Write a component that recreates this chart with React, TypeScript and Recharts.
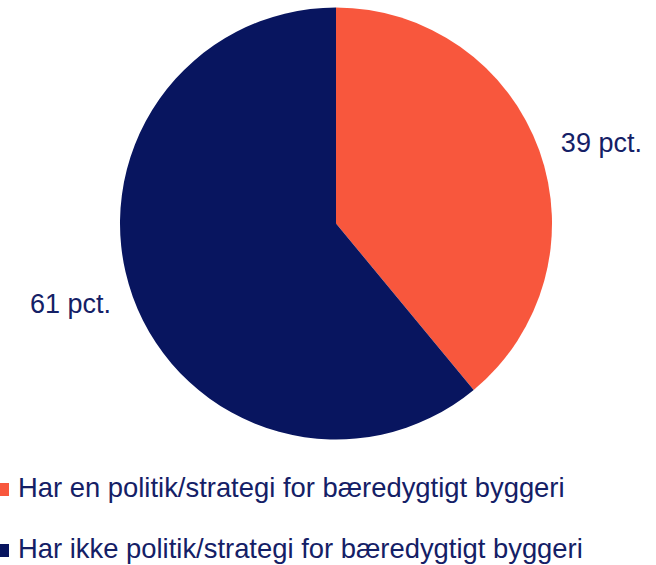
import React from "react";
import { PieChart, Pie, Cell, Legend } from "recharts";

const categories = [
  "Har en politik/strategi for bæredygtigt byggeri",
  "Har ikke politik/strategi for bæredygtigt byggeri",
];
const values = [39, 61];
const labels = ["39 pct.", "61 pct."];
const colors = ["#F8573D", "#08155F"];
const textColor = "#142066";
const FONT = "'Liberation Sans', Arial, sans-serif";

const data = categories.map((name, i) => ({ name, value: values[i], label: labels[i] }));

const RADIAN = Math.PI / 180;

const renderLabel = (props: any) => {
  const { cx, cy, midAngle, outerRadius, index } = props;
  const r = outerRadius + 23;
  const x = cx + r * Math.cos(-midAngle * RADIAN);
  const y = cy + r * Math.sin(-midAngle * RADIAN);
  return (
    <text
      x={x}
      y={y}
      fill={textColor}
      fontFamily={FONT}
      fontSize={27}
      textAnchor={x > cx ? "start" : "end"}
      dominantBaseline="central"
    >
      {data[index].label}
    </text>
  );
};

const renderLegend = (props: any) => {
  const { payload } = props;
  return (
    <svg width={656} height={95} style={{ display: "block" }}>
      {(payload || []).map((entry: any, i: number) => (
        <g key={i}>
          <rect x={0} y={13 + i * 61} width={9} height={13} fill={entry.color} />
          <text x={18} y={27 + i * 61} fill={textColor} fontFamily={FONT} fontSize={27.4}>
            {entry.value}
          </text>
        </g>
      ))}
    </svg>
  );
};

export default function App() {
  return (
    <div style={{ position: "absolute", left: 0, top: 0, width: 656, height: 565, background: "#fff" }}>
      <PieChart width={656} height={565} margin={{ top: 0, right: 0, bottom: 0, left: 0 }}>
        <Pie
          data={data}
          dataKey="value"
          nameKey="name"
          cx={336}
          cy={223.5}
          outerRadius={216}
          startAngle={90}
          endAngle={-270}
          stroke="none"
          label={renderLabel}
          labelLine={false}
          isAnimationActive={false}
        >
          {data.map((d, i) => (
            <Cell key={d.name} fill={colors[i]} />
          ))}
        </Pie>
        <Legend
          content={renderLegend}
          wrapperStyle={{ position: "absolute", top: 470, left: 0, width: 656, height: 95 }}
        />
      </PieChart>
    </div>
  );
}
